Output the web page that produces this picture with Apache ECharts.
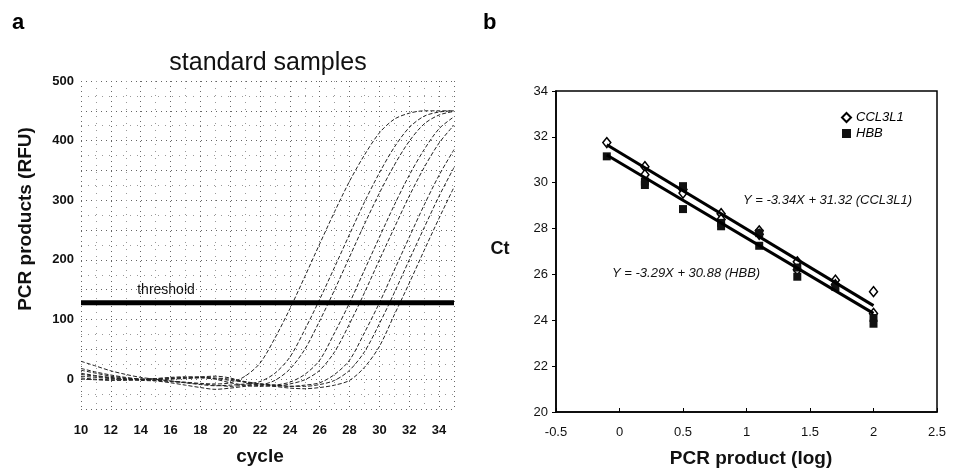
<!DOCTYPE html>
<html lang="en">
<head>
    <meta charset="UTF-8">
    <title>standard samples</title>
    <script src="https://cdn.jsdelivr.net/npm/echarts@6/dist/echarts.min.js"></script>
    <style>
        html, body { margin: 0; padding: 0; background: #fff; }
        #main { width: 959px; height: 470px; }
    </style>
</head>
<body>
    <div id="main"></div>
    <script>
        // panel a: amplification curves (RFU per cycle)
        var cycles = [10, 11, 12, 13, 14, 15, 16, 17, 18, 19, 20, 21, 22, 23, 24, 25, 26, 27, 28, 29, 30, 31, 32, 33, 34, 35];
        var curveA = [15, 10, 5, 2, 0, -2, -3, -5, -7, -8, -6, 5, 27, 69, 118, 172, 227, 281, 332, 376, 413, 436, 446, 450, 450, 450];
        var curveB = [30, 22, 14, 8, 3, 0, -3, -6, -9, -11, -10, -8, -4, 10, 37, 83, 134, 188, 243, 297, 346, 389, 422, 441, 448, 450];
        var curveC = [5, 3, 1, 0, -2, -3, -6, -10, -14, -17, -15, -12, -10, -2, 17, 50, 98, 150, 205, 260, 312, 359, 399, 428, 443, 449];
        var curveD = [10, 6, 3, 1, 0, 1, 3, 4, 3, 0, -6, -10, -12, -10, -5, 8, 32, 78, 128, 183, 238, 292, 342, 385, 420, 440];
        var curveE = [2, 0, -1, -1, 0, 1, 2, 3, 4, 5, 2, -5, -10, -12, -8, -1, 15, 46, 93, 145, 200, 254, 307, 355, 396, 426];
        var curveF = [18, 12, 7, 3, 0, -2, -4, -6, -8, -10, -12, -10, -8, -10, -12, -10, -6, 8, 32, 78, 128, 183, 238, 292, 342, 385];
        var curveG = [8, 5, 2, 0, -1, -1, 0, 1, 2, 1, -2, -5, -8, -10, -12, -12, -9, -2, 15, 46, 93, 145, 200, 254, 307, 355];
        var curveH = [0, -1, -2, -2, -1, 0, 1, 2, 3, 2, 0, -4, -8, -12, -15, -16, -14, -10, -2, 20, 55, 108, 161, 216, 270, 322];
        var curves = [curveA, curveB, curveC, curveD, curveE, curveF, curveG, curveH];
        var thresholdValue = 128;
        var cycleRange = [10, 35];

        // panel b: standard curve, [log product, Ct]
        var ccl3l1Points = [[-0.1, 31.75], [0.2, 30.7], [0.2, 30.35], [0.5, 29.7], [0.5, 29.55], [0.8, 28.65], [0.8, 28.4],
            [1.1, 27.9], [1.1, 27.75], [1.4, 26.55], [1.4, 26.2], [1.7, 25.75], [1.7, 25.55], [2.0, 25.25], [2.0, 24.3]];
        var hbbPoints = [[-0.1, 31.15], [0.2, 30.05], [0.2, 29.9], [0.5, 29.85], [0.5, 28.85], [0.8, 28.25], [0.8, 28.1],
            [1.1, 27.8], [1.1, 27.25], [1.4, 26.3], [1.4, 25.9], [1.7, 25.45], [2.0, 24.1], [2.0, 23.85]];
        var fitRange = [-0.1, 2.0];
        var ccl3l1Fit = { slope: -3.34, intercept: 31.32 };
        var hbbFit = { slope: -3.29, intercept: 30.88 };

        var font = 'Arial, "Liberation Sans", sans-serif';

        function fitLine(f) {
            return fitRange.map(function (x) { return [x, f.slope * x + f.intercept]; });
        }

        var curveSeries = curves.map(function (c) {
            return {
                type: 'line',
                xAxisIndex: 0,
                yAxisIndex: 0,
                smooth: 0.3,
                symbol: 'none',
                silent: true,
                lineStyle: { color: '#222', width: 1, type: [4, 2] },
                data: cycles.map(function (x, i) { return [x, c[i]]; })
            };
        });

        var myChart = echarts.init(document.getElementById('main'));
        var option = {
            animation: false,
            backgroundColor: '#fff',
            textStyle: { fontFamily: font },
            grid: [
                { left: 81, top: 81, width: 373, height: 328 },
                { left: 556, top: 91, width: 381, height: 321, show: true, borderColor: '#000', borderWidth: 1.5 }
            ],
            legend: {
                orient: 'vertical',
                left: 836,
                top: 106,
                itemWidth: 9,
                itemHeight: 9,
                itemGap: 3,
                data: ['CCL3L1', 'HBB'],
                textStyle: { fontFamily: font, fontStyle: 'italic', fontSize: 13, color: '#000' }
            },
            xAxis: [
                {
                    gridIndex: 0, type: 'value', min: 10, max: 35, interval: 2,
                    axisLine: { show: false }, axisTick: { show: false },
                    axisLabel: { fontWeight: 'bold', fontSize: 13, color: '#111', margin: 15, showMaxLabel: false },
                    splitLine: { show: true, lineStyle: { color: '#666', type: [1, 4] } },
                    minorTick: { show: false, splitNumber: 2 },
                    minorSplitLine: { show: true, lineStyle: { color: '#999', type: [1, 6] } }
                },
                {
                    gridIndex: 1, type: 'value', min: -0.5, max: 2.5, interval: 0.5,
                    axisLine: { show: true, onZero: false, lineStyle: { color: '#000', width: 1.5 } },
                    axisTick: { show: true, inside: true, length: 4, lineStyle: { color: '#000' } },
                    axisLabel: { fontSize: 13, color: '#111', margin: 14 },
                    splitLine: { show: false }
                }
            ],
            yAxis: [
                {
                    gridIndex: 0, type: 'value', min: -50, max: 500, interval: 50,
                    axisLine: { show: false }, axisTick: { show: false },
                    axisLabel: {
                        fontWeight: 'bold', fontSize: 13, color: '#111', margin: 7,
                        formatter: function (v) { return (v % 100 === 0) ? String(v) : ''; }
                    },
                    splitLine: { show: true, lineStyle: { color: '#666', type: [1, 4] } },
                    minorTick: { show: false, splitNumber: 2 },
                    minorSplitLine: { show: true, lineStyle: { color: '#999', type: [1, 6] } }
                },
                {
                    gridIndex: 1, type: 'value', min: 20, max: 34, interval: 2,
                    axisLine: { show: true, onZero: false, lineStyle: { color: '#000', width: 1.5 } },
                    axisTick: { show: true, length: 4, lineStyle: { color: '#000' } },
                    axisLabel: { fontSize: 13, color: '#111', margin: 8 },
                    splitLine: { show: false }
                }
            ],
            graphic: [
                { type: 'text', left: 12, top: 12, style: { text: 'a', font: 'bold 22px ' + font, fill: '#000' } },
                { type: 'text', left: 483, top: 12, style: { text: 'b', font: 'bold 22px ' + font, fill: '#000' } },
                { type: 'text', x: 268, y: 63, style: { text: 'standard samples', font: '25px ' + font, fill: '#111', align: 'center', verticalAlign: 'middle' } },
                { type: 'text', x: 26, y: 219, rotation: Math.PI / 2, style: { text: 'PCR products (RFU)', font: 'bold 19px ' + font, fill: '#111', align: 'center', verticalAlign: 'middle' } },
                { type: 'text', x: 260, y: 457, style: { text: 'cycle', font: 'bold 19px ' + font, fill: '#111', align: 'center', verticalAlign: 'middle' } },
                { type: 'text', x: 166, y: 290, style: { text: 'threshold', font: '14px ' + font, fill: '#111', align: 'center', verticalAlign: 'middle' } },
                { type: 'text', x: 500, y: 249, style: { text: 'Ct', font: 'bold 18px ' + font, fill: '#111', align: 'center', verticalAlign: 'middle' } },
                { type: 'text', x: 751, y: 459, style: { text: 'PCR product (log)', font: 'bold 19px ' + font, fill: '#111', align: 'center', verticalAlign: 'middle' } },
                { type: 'text', x: 743, y: 200, style: { text: 'Y = ' + ccl3l1Fit.slope + 'X + ' + ccl3l1Fit.intercept + ' (CCL3L1)', font: 'italic 13px ' + font, fill: '#111', verticalAlign: 'middle' } },
                { type: 'text', x: 612, y: 273, style: { text: 'Y = ' + hbbFit.slope + 'X + ' + hbbFit.intercept + ' (HBB)', font: 'italic 13px ' + font, fill: '#111', verticalAlign: 'middle' } }
            ],
            series: curveSeries.concat([
                {
                    type: 'line', xAxisIndex: 0, yAxisIndex: 0, symbol: 'none', silent: true,
                    lineStyle: { color: '#000', width: 5 },
                    data: cycleRange.map(function (x) { return [x, thresholdValue]; })
                },
                {
                    type: 'line', xAxisIndex: 1, yAxisIndex: 1, symbol: 'none', silent: true,
                    lineStyle: { color: '#000', width: 3 },
                    data: fitLine(ccl3l1Fit)
                },
                {
                    type: 'line', xAxisIndex: 1, yAxisIndex: 1, symbol: 'none', silent: true,
                    lineStyle: { color: '#000', width: 3 },
                    data: fitLine(hbbFit)
                },
                {
                    name: 'CCL3L1', type: 'scatter', xAxisIndex: 1, yAxisIndex: 1,
                    symbol: 'diamond', symbolSize: [8, 10],
                    itemStyle: { color: '#fff', borderColor: '#000', borderWidth: 1.5, opacity: 1 },
                    data: ccl3l1Points
                },
                {
                    name: 'HBB', type: 'scatter', xAxisIndex: 1, yAxisIndex: 1,
                    symbol: 'rect', symbolSize: 8,
                    itemStyle: { color: '#111', opacity: 1 },
                    data: hbbPoints
                }
            ])
        };
        myChart.setOption(option);
    </script>
</body>
</html>
